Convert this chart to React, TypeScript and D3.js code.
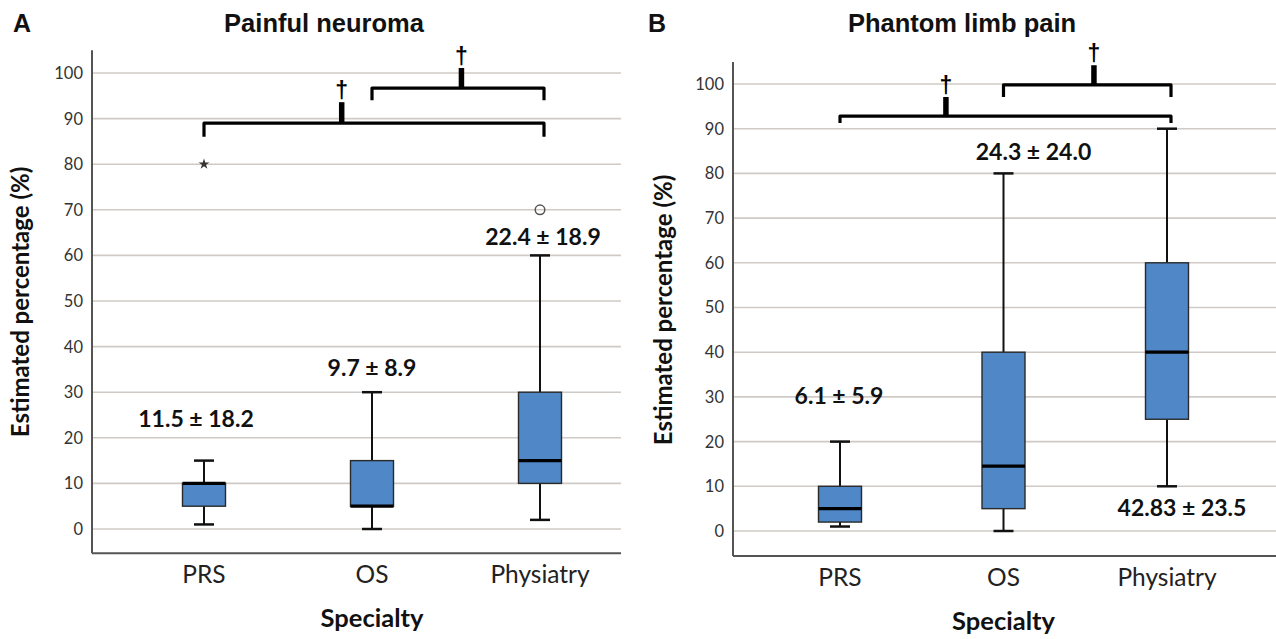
import React from "react";
import * as d3 from "d3";

const categories = ["PRS", "OS", "Physiatry"];
const yTicks = [0, 10, 20, 30, 40, 50, 60, 70, 80, 90, 100];

// Panel A: Painful neuroma
const neuromaMin = [1, 0, 2];
const neuromaQ1 = [5, 5, 10];
const neuromaMedian = [10, 5, 15];
const neuromaQ3 = [10, 15, 30];
const neuromaMax = [15, 30, 60];
const neuromaOutliers = [
  { cat: "PRS", value: 80, kind: "extreme" },
  { cat: "Physiatry", value: 70, kind: "outlier" },
];
const neuromaLabels = ["11.5 ± 18.2", "9.7 ± 8.9", "22.4 ± 18.9"];
const neuromaLabelY = [22.4, 33.5, 62.3];
const neuromaLabelDx = [-8, 0, 3];

// Panel B: Phantom limb pain
const phantomMin = [1, 0, 10];
const phantomQ1 = [2, 5, 25];
const phantomMedian = [5, 14.5, 40];
const phantomQ3 = [10, 40, 60];
const phantomMax = [20, 80, 90];
const phantomOutliers: { cat: string; value: number; kind: string }[] = [];
const phantomLabels = ["6.1 ± 5.9", "24.3 ± 24.0", "42.83 ± 23.5"];
const phantomLabelY = [28.4, 83, 3.4];
const phantomLabelDx = [-1, 30, 15];

// significance brackets: from/to category index, horizontal y, end y, tick top y, tick fraction
const neuromaBrackets = [
  { from: 0, to: 2, y: 89, end: 86, top: 93.6, frac: 0.405 },
  { from: 1, to: 2, y: 96.7, end: 94, top: 101.1, frac: 0.52 },
];
const phantomBrackets = [
  { from: 0, to: 2, y: 92.8, end: 91.3, top: 97.1, frac: 0.32 },
  { from: 1, to: 2, y: 99.8, end: 97.1, top: 104.2, frac: 0.54 },
];

const CAL = "Lato, 'Open Sans', sans-serif";
const ARIAL = "'Liberation Sans', Arial, sans-serif";

type PanelProps = {
  letter: string;
  title: string;
  titleX: number;
  axisX: number;
  rightX: number;
  y0: number;
  y100: number;
  yBottom: number;
  yTop: number;
  xRange: [number, number];
  mins: number[];
  q1s: number[];
  medians: number[];
  q3s: number[];
  maxs: number[];
  outliers: { cat: string; value: number; kind: string }[];
  labels: string[];
  labelY: number[];
  labelDx: number[];
  brackets: { from: number; to: number; y: number; end: number; top: number; frac: number }[];
  letterX: number;
  yLabelX: number;
  yLabelCY: number;
};

const starPath = d3.symbol(d3.symbolStar, 36)() as string;

function Panel(p: PanelProps) {
  const y = d3.scaleLinear().domain([0, 100]).range([p.y0, p.y100]);
  const x = d3.scalePoint<string>().domain(categories).range(p.xRange);
  const boxW = 43;
  const capW = 20;
  const catCenter = x(categories[1]) as number;
  return (
    <g>
      <text x={p.letterX} y={32} fontFamily={ARIAL} fontWeight="bold" fontSize={25} fill="#111">
        {p.letter}
      </text>
      <text x={p.titleX} y={32} textAnchor="middle" fontFamily={ARIAL} fontWeight="bold" fontSize={25.5} fill="#111">
        {p.title}
      </text>
      {yTicks.map((t) => (
        <g key={t}>
          <line x1={p.axisX} x2={p.rightX} y1={y(t)} y2={y(t)} stroke="#cfcac5" strokeWidth={1.6} />
          <text x={p.axisX - 9} y={y(t)} dy="0.36em" textAnchor="end" fontFamily={CAL} fontSize={16.5} fill="#333">
            {t}
          </text>
        </g>
      ))}
      <line x1={p.axisX} x2={p.axisX} y1={y(p.yTop)} y2={y(p.yBottom)} stroke="#555" strokeWidth={2} />
      <line x1={p.axisX} x2={p.rightX} y1={y(p.yBottom)} y2={y(p.yBottom)} stroke="#555" strokeWidth={2} />
      {categories.map((c, i) => {
        const cx = x(c) as number;
        return (
          <g key={c}>
            <line x1={cx} x2={cx} y1={y(p.maxs[i])} y2={y(p.q3s[i])} stroke="#111" strokeWidth={2} />
            <line x1={cx} x2={cx} y1={y(p.q1s[i])} y2={y(p.mins[i])} stroke="#111" strokeWidth={2} />
            <line x1={cx - capW / 2} x2={cx + capW / 2} y1={y(p.maxs[i])} y2={y(p.maxs[i])} stroke="#111" strokeWidth={2.5} />
            <line x1={cx - capW / 2} x2={cx + capW / 2} y1={y(p.mins[i])} y2={y(p.mins[i])} stroke="#111" strokeWidth={2.5} />
            <rect
              x={cx - boxW / 2}
              y={y(p.q3s[i])}
              width={boxW}
              height={Math.max(0.5, y(p.q1s[i]) - y(p.q3s[i]))}
              fill="#4f87c7"
              stroke="#2a2a2a"
              strokeWidth={1.4}
            />
            <line x1={cx - boxW / 2} x2={cx + boxW / 2} y1={y(p.medians[i])} y2={y(p.medians[i])} stroke="#000" strokeWidth={3.2} />
            <text
              x={cx + p.labelDx[i]}
              y={y(p.labelY[i])}
              textAnchor="middle"
              fontFamily={CAL}
              fontWeight="bold"
              fontSize={23}
              fill="#111"
            >
              {p.labels[i]}
            </text>
            <text x={cx} y={y(p.yBottom) + 30} textAnchor="middle" fontFamily={CAL} fontSize={24.5} fill="#222">
              {c}
            </text>
          </g>
        );
      })}
      {p.outliers.map((o, i) => {
        const cx = x(o.cat) as number;
        return o.kind === "outlier" ? (
          <circle key={i} cx={cx} cy={y(o.value)} r={4.8} fill="none" stroke="#555" strokeWidth={1.5} />
        ) : (
          <path key={i} d={starPath} transform={`translate(${cx},${y(o.value)})`} fill="#333" />
        );
      })}
      {p.brackets.map((b, i) => {
        const x1 = x(categories[b.from]) as number;
        const x2 = (x(categories[b.to]) as number) + 4;
        const tx = x1 + (x2 - x1) * b.frac;
        return (
          <g key={i}>
            <path
              d={`M${x1},${y(b.end)} L${x1},${y(b.y)} L${x2},${y(b.y)} L${x2},${y(b.end)}`}
              fill="none"
              stroke="#000"
              strokeWidth={3.2}
              strokeLinejoin="round"
            />
            <line x1={tx} x2={tx} y1={y(b.y)} y2={y(b.top)} stroke="#000" strokeWidth={5.5} />
            <text x={tx} y={y(b.top) - 4} textAnchor="middle" fontFamily={ARIAL} fontWeight="bold" fontSize={23} fill="#000">
              †
            </text>
          </g>
        );
      })}
      <text x={catCenter} y={y(p.yBottom) + 74} textAnchor="middle" fontFamily={CAL} fontWeight="bold" fontSize={25.5} fill="#111">
        Specialty
      </text>
      <text
        transform={`translate(${p.yLabelX},${p.yLabelCY}) rotate(-90)`}
        textAnchor="middle"
        fontFamily={CAL}
        fontWeight="bold"
        fontSize={24}
        fill="#111"
      >
        Estimated percentage (%)
      </text>
    </g>
  );
}

export default function App() {
  return (
    <div style={{ position: "absolute", left: 0, top: 0, width: 1276, height: 639, background: "#fff" }}>
      <svg width={1276} height={639} viewBox="0 0 1276 639" style={{ display: "block" }}>
        <rect width={1276} height={639} fill="#fff" />
        <Panel
          letter="A"
          title="Painful neuroma"
          titleX={324}
          axisX={92}
          rightX={621}
          y0={529}
          y100={73}
          yBottom={-5.3}
          yTop={105}
          xRange={[204, 540]}
          mins={neuromaMin}
          q1s={neuromaQ1}
          medians={neuromaMedian}
          q3s={neuromaQ3}
          maxs={neuromaMax}
          outliers={neuromaOutliers}
          labels={neuromaLabels}
          labelY={neuromaLabelY}
          labelDx={neuromaLabelDx}
          brackets={neuromaBrackets}
          letterX={13}
          yLabelX={29}
          yLabelCY={302}
        />
        <Panel
          letter="B"
          title="Phantom limb pain"
          titleX={962}
          axisX={733}
          rightX={1276}
          y0={531}
          y100={84}
          yBottom={-5.6}
          yTop={104.9}
          xRange={[840, 1167]}
          mins={phantomMin}
          q1s={phantomQ1}
          medians={phantomMedian}
          q3s={phantomQ3}
          maxs={phantomMax}
          outliers={phantomOutliers}
          labels={phantomLabels}
          labelY={phantomLabelY}
          labelDx={phantomLabelDx}
          brackets={phantomBrackets}
          letterX={648}
          yLabelX={672}
          yLabelCY={310}
        />
      </svg>
    </div>
  );
}
